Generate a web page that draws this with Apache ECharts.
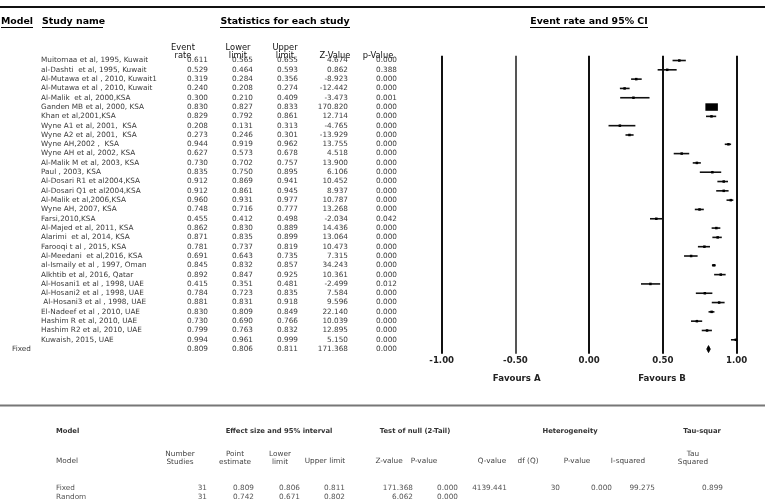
<!DOCTYPE html>
<html><head><meta charset="utf-8">
<script src="https://cdn.jsdelivr.net/npm/echarts@6/dist/echarts.min.js"></script>
<style>html,body{margin:0;padding:0;background:#fff}#c{width:765px;height:500px}</style>
</head><body><div id="c"></div>
<script>
const studyNames = [
  'Muitomaa et al, 1995, Kuwait', 'al-Dashti  et al, 1995, Kuwait', 'Al-Mutawa et al , 2010, Kuwait1',
  'Al-Mutawa et al , 2010, Kuwait', 'Al-Malik  et al, 2000,KSA', 'Ganden MB et al, 2000, KSA',
  'Khan et al,2001,KSA', 'Wyne A1 et al, 2001,  KSA', 'Wyne A2 et al, 2001,  KSA', 'Wyne AH,2002 ,  KSA',
  'Wyne AH et al, 2002, KSA', 'Al-Malik M et al, 2003, KSA', 'Paul , 2003, KSA', 'Al-Dosari R1 et al2004,KSA',
  'Al-Dosari Q1 et al2004,KSA', 'Al-Malik et al,2006,KSA', 'Wyne AH, 2007, KSA', 'Farsi,2010,KSA',
  'Al-Majed et al, 2011, KSA', 'Alarimi  et al, 2014, KSA', 'Farooqi t al , 2015, KSA', 'Al-Meedani  et al,2016, KSA',
  'al-Ismaily et al , 1997, Oman', 'Alkhtib et al, 2016, Qatar', 'Al-Hosani1 et al , 1998, UAE',
  'Al-Hosani2 et al , 1998, UAE', ' Al-Hosani3 et al , 1998, UAE', 'El-Nadeef et al , 2010, UAE',
  'Hashim R et al, 2010, UAE', 'Hashim R2 et al, 2010, UAE', 'Kuwaish, 2015, UAE'
];
const eventRate = [0.611,0.529,0.319,0.240,0.300,0.830,0.829,0.208,0.273,0.944,0.627,0.730,0.835,0.912,0.912,0.960,0.748,0.455,0.862,0.871,0.781,0.691,0.845,0.892,0.415,0.784,0.881,0.830,0.730,0.799,0.994];
const lowerLimit = [0.565,0.464,0.284,0.208,0.210,0.827,0.792,0.131,0.246,0.919,0.573,0.702,0.750,0.869,0.861,0.931,0.716,0.412,0.830,0.835,0.737,0.643,0.832,0.847,0.351,0.723,0.831,0.809,0.690,0.763,0.961];
const upperLimit = [0.655,0.593,0.356,0.274,0.409,0.833,0.861,0.313,0.301,0.962,0.678,0.757,0.895,0.941,0.945,0.977,0.777,0.498,0.889,0.899,0.819,0.735,0.857,0.925,0.481,0.835,0.918,0.849,0.766,0.832,0.999];
const zValue = [4.674,0.862,-8.923,-12.442,-3.473,170.820,12.714,-4.765,-13.929,13.755,4.518,13.900,6.106,10.452,8.937,10.787,13.268,-2.034,14.436,13.064,10.473,7.315,34.243,10.361,-2.499,7.584,9.596,22.140,10.039,12.895,5.150];
const pValue = [0.000,0.388,0.000,0.000,0.001,0.000,0.000,0.000,0.000,0.000,0.000,0.000,0.000,0.000,0.000,0.000,0.000,0.042,0.000,0.000,0.000,0.000,0.000,0.000,0.012,0.000,0.000,0.000,0.000,0.000,0.000];

const fixedLabel = 'Fixed';
const fixedStats = [0.809, 0.806, 0.811, 171.368, 0.000]; // rate, lower, upper, Z, p

const xTickMin = -1, xTickMax = 1, xTickStep = 0.5;
const favourLabels = ['Favours A', 'Favours B'];

// summary table
const summaryModels = ['Fixed', 'Random'];
const summaryN = [31, 31];
const summaryPoint = [0.809, 0.742];
const summaryLower = [0.806, 0.671];
const summaryUpper = [0.811, 0.802];
const summaryZ = [171.368, 6.062];
const summaryP = [0.000, 0.000];
const hetQ = [4139.441];
const hetDf = [30];
const hetP = [0.000];
const hetI2 = [99.275];
const tauSq = [0.899];

const N = studyNames.length;
const rowLabels = studyNames.concat([fixedLabel]);
const FONT = '"DejaVu Sans", sans-serif';

const chart = echarts.init(document.getElementById('c'), null, {renderer: 'canvas'});

const forestData = studyNames.map((n, i) => [i, eventRate[i], lowerLimit[i], upperLimit[i], 0]);
forestData.push([N, fixedStats[0], fixedStats[1], fixedStats[2], 1]);

const tableData = rowLabels.map((n, i) => [0, i]);

function txt(x, y, text, opt) {
  opt = opt || {};
  return {
    type: 'text', x: x, y: y, silent: true,
    style: {
      text: text,
      font: (opt.weight || 'normal') + ' ' + (opt.size || 7.3) + 'px ' + FONT,
      fill: opt.color || '#333',
      align: opt.align || 'left',
      verticalAlign: 'middle',
      lineHeight: opt.lh || 8
    }
  };
}
function hline(x1, x2, y, w, c) {
  return {type: 'line', silent: true, shape: {x1: x1, y1: y, x2: x2, y2: y}, style: {stroke: c || '#000', lineWidth: w || 1}};
}

const graphics = [];
graphics.push(hline(0, 765, 7, 2, '#111'));
const H = {weight: 'bold', size: 9.4, color: '#000'};
graphics.push(txt(1, 22, 'Model', H));
graphics.push(hline(1, 33, 27.5, 1));
graphics.push(txt(42, 22, 'Study name', H));
graphics.push(hline(42, 103, 27.5, 1));
graphics.push(txt(285, 22, 'Statistics for each study', Object.assign({align: 'center'}, H)));
graphics.push(hline(220, 350, 27.5, 1));
graphics.push(txt(589, 22, 'Event rate and 95% CI', Object.assign({align: 'center'}, H)));
graphics.push(hline(530, 648, 27.5, 1));
const CH = {size: 8.3, color: '#111', align: 'center', lh: 8};
graphics.push(txt(183, 51.5, 'Event\nrate', CH));
graphics.push(txt(238, 51.5, 'Lower\nlimit', CH));
graphics.push(txt(285, 51.5, 'Upper\nlimit', CH));
graphics.push(txt(335, 55.5, 'Z-Value', CH));
graphics.push(txt(378, 55.5, 'p-Value', CH));
graphics.push(txt(516.7, 379, favourLabels[0], {weight: 'bold', size: 8.6, color: '#222', align: 'center'}));
graphics.push(txt(662, 379, favourLabels[1], {weight: 'bold', size: 8.6, color: '#222', align: 'center'}));

// bottom summary table
graphics.push(hline(0, 765, 405.5, 2, '#777'));
const BH = {weight: 'bold', size: 6.8, color: '#333'};
const BC = {size: 7.3, color: '#444', align: 'center', lh: 8};
graphics.push(txt(56, 431, 'Model', BH));
graphics.push(txt(279, 431, 'Effect size and 95% interval', Object.assign({align: 'center'}, BH)));
graphics.push(txt(415, 431, 'Test of null (2-Tail)', Object.assign({align: 'center'}, BH)));
graphics.push(txt(570, 431, 'Heterogeneity', Object.assign({align: 'center'}, BH)));
graphics.push(txt(702, 431, 'Tau-squar', Object.assign({align: 'center'}, BH)));
graphics.push(txt(56, 461, 'Model', {size: 7.3, color: '#444'}));
graphics.push(txt(180, 458, 'Number\nStudies', BC));
graphics.push(txt(235, 458, 'Point\nestimate', BC));
graphics.push(txt(280, 458, 'Lower\nlimit', BC));
graphics.push(txt(325, 461, 'Upper limit', BC));
graphics.push(txt(389, 461, 'Z-value', BC));
graphics.push(txt(424, 461, 'P-value', BC));
graphics.push(txt(492, 461, 'Q-value', BC));
graphics.push(txt(528, 461, 'df (Q)', BC));
graphics.push(txt(577, 461, 'P-value', BC));
graphics.push(txt(628, 461, 'I-squared', BC));
graphics.push(txt(693, 458, 'Tau\nSquared', BC));
const BD = {size: 7.3, color: '#555', align: 'right'};
summaryModels.forEach((m, k) => {
  const y = 488 + k * 9;
  graphics.push(txt(56, y, m, {size: 7.3, color: '#555'}));
  graphics.push(txt(207, y, String(summaryN[k]), BD));
  graphics.push(txt(254, y, summaryPoint[k].toFixed(3), BD));
  graphics.push(txt(300, y, summaryLower[k].toFixed(3), BD));
  graphics.push(txt(345, y, summaryUpper[k].toFixed(3), BD));
  graphics.push(txt(413, y, summaryZ[k].toFixed(3), BD));
  graphics.push(txt(458, y, summaryP[k].toFixed(3), BD));
  if (k < hetQ.length) {
    graphics.push(txt(507, y, hetQ[k].toFixed(3), BD));
    graphics.push(txt(560, y, String(hetDf[k]), BD));
    graphics.push(txt(612, y, hetP[k].toFixed(3), BD));
    graphics.push(txt(655, y, hetI2[k].toFixed(3), BD));
    graphics.push(txt(723, y, tauSq[k].toFixed(3), BD));
  }
});

const option = {
  animation: false,
  backgroundColor: '#fff',
  grid: {left: 441.7, right: 28.3, top: 55.85, height: 297.9, containLabel: false},
  xAxis: {
    type: 'value', min: xTickMin, max: xTickMax, interval: xTickStep,
    axisLine: {show: false}, axisTick: {show: false},
    splitLine: {show: true, lineStyle: {width: 2, color: ['#111', '#555', '#111', '#111', '#111']}},
    axisLabel: {margin: 3, fontFamily: FONT, fontWeight: 'bold', fontSize: 8.6, color: '#222',
      formatter: v => v.toFixed(2)}
  },
  yAxis: {
    type: 'category', inverse: true, data: rowLabels,
    axisLine: {show: false}, axisTick: {show: false}, axisLabel: {show: false}, splitLine: {show: false}
  },
  graphic: graphics,
  series: [
    {
      type: 'custom', clip: false, silent: true,
      data: forestData,
      renderItem: function (params, api) {
        const i = api.value(0);
        const pe = api.coord([api.value(1), i]);
        const lo = api.coord([api.value(2), i]);
        const hi = api.coord([api.value(3), i]);
        const y = pe[1];
        if (api.value(4) === 1) {
          const hw = Math.max(1.8, (hi[0] - lo[0]) / 2);
          return {type: 'polygon', shape: {points: [[pe[0] - hw, y], [pe[0], y - 3.5], [pe[0] + hw, y], [pe[0], y + 3.5]]},
            style: {fill: '#000', stroke: '#000', lineWidth: 0.8}};
        }
        const width = api.value(3) - api.value(2);
        const s = 0.075 / width;
        const w = Math.max(2.5, s);
        const h = Math.max(2.5, Math.min(s * 0.6, 7.5));
        return {type: 'group', children: [
          {type: 'line', shape: {x1: lo[0], y1: y, x2: hi[0], y2: y}, style: {stroke: '#111', lineWidth: 1.6}},
          {type: 'rect', shape: {x: pe[0] - w / 2, y: y - h / 2, width: w, height: h}, style: {fill: '#000'}}
        ]};
      }
    },
    {
      type: 'custom', clip: false, silent: true,
      data: tableData,
      renderItem: function (params, api) {
        const i = api.value(1);
        const y = api.coord([0, i])[1];
        const D = {size: 7.3, color: '#3a3a3a', align: 'right'};
        let vals;
        if (i < N) vals = [eventRate[i], lowerLimit[i], upperLimit[i], zValue[i], pValue[i]];
        else vals = fixedStats;
        return {type: 'group', children: [
          txt(i < N ? 41 : 12, y, rowLabels[i], {size: 7.3, color: '#3a3a3a'}),
          txt(208, y, vals[0].toFixed(3), D),
          txt(253, y, vals[1].toFixed(3), D),
          txt(298, y, vals[2].toFixed(3), D),
          txt(348, y, vals[3].toFixed(3), D),
          txt(397, y, vals[4].toFixed(3), D)
        ]};
      }
    }
  ]
};
chart.setOption(option);
</script>
</body></html>
